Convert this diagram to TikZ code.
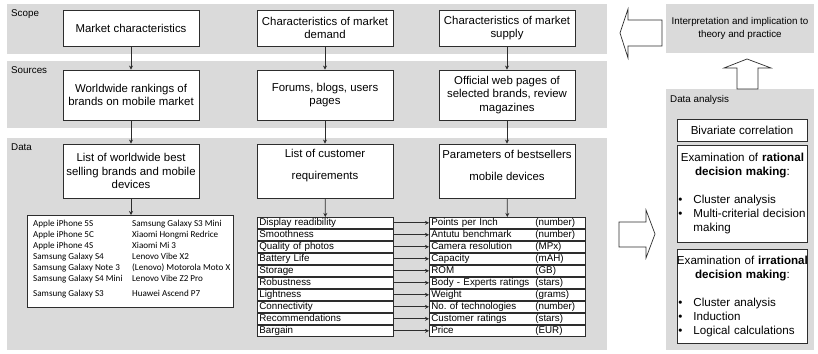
\documentclass[tikz,border=0pt]{standalone}
\usepackage{fontspec}
\setmainfont{Liberation Sans}
\newfontfamily\brandfont{Carlito}
\usetikzlibrary{arrows.meta}
\definecolor{bandgray}{RGB}{218,218,218}
\definecolor{linec}{RGB}{45,45,45}
\begin{document}
\begin{tikzpicture}[x=1pt,y=-1pt,
  band/.style={fill=bandgray,draw=none},
  box/.style={draw=linec,fill=white,line width=0.8pt,align=center,inner sep=0pt,
    minimum width=136pt,font=\fontsize{11.4}{13.8}\selectfont},
  boxtext/.style={align=center,inner sep=0pt,font=\fontsize{11.4}{13.8}\selectfont},
  lab/.style={font=\fontsize{9.8}{11}\selectfont,anchor=base west,inner sep=0pt},
  arr/.style={draw=linec,line width=0.8pt,-{Stealth[length=4pt,width=4pt]}},
  req/.style={draw=linec,fill=white,line width=0.7pt,anchor=north west,
    minimum height=11pt,inner xsep=2pt,inner ysep=0pt,text width=132pt,
    text height=7.3pt,text depth=2.2pt,align=left,font=\fontsize{9.8}{10}\selectfont},
  prm/.style={req,text width=152pt},
  rbox/.style={draw=linec,fill=white,line width=0.8pt,inner ysep=0pt,inner xsep=1pt,
    minimum width=130pt,font=\fontsize{11.6}{14}\selectfont},
  bigarrow/.style={draw=linec,fill=white,line width=0.7pt,line join=miter}]
\useasboundingbox (0,0) rectangle (818,353);

% bands
\fill[band] (7,4) rectangle (607,54);
\fill[band] (7,61) rectangle (607,128);
\fill[band] (7,138) rectangle (607,350);
\node[lab] (lscope) at (11,16.5) {Scope};
\node[lab] (lsrc) at (11,73.5) {Sources};
\node[lab] (ldata) at (11,150.5) {Data};

% column boxes
\node[box,minimum height=36pt] (m1) at (131,28) {Market characteristics};
\node[box,minimum height=36pt] (m2) at (325,28) {Characteristics of market\\demand};
\node[box,minimum height=36pt] (m3) at (507,28) {Characteristics of market\\supply};
\node[box,minimum height=50pt] (s1) at (131,95) {Worldwide rankings of\\brands on mobile market};
\node[box,minimum height=50pt] (s2) at (325,95) {Forums, blogs, users\\pages};
\node[box,minimum height=50pt] (s3) at (507,95) {Official web pages of\\selected brands, review\\magazines};
\node[box,minimum height=54pt] (l1) at (131,171) {List of worldwide best\\selling brands and mobile\\devices};
\node[box,minimum height=54pt] (l2) at (325,171) {};
\node[boxtext] (l2t) at (325,165.5) {List of customer\\[9pt]requirements};
\node[box,minimum height=54pt] (l3) at (507,171) {};
\node[boxtext] (l3t) at (507,165.5) {Parameters of bestsellers\\[9pt]mobile devices};

\draw[arr] (m1) -- (s1);
\draw[arr] (m2) -- (s2);
\draw[arr] (m3) -- (s3);
\draw[arr] (s1) -- (l1);
\draw[arr] (s2) -- (l2);
\draw[arr] (s3) -- (l3);

% brand list
\node[draw=linec,fill=white,line width=0.8pt,anchor=north west,minimum width=206pt,
  minimum height=92pt,inner sep=0pt] (brands) at (27,215) {};
\node[anchor=base west,inner sep=0pt,font=\brandfont\fontsize{9.1}{11}\selectfont] (brandtxt) at (33,226.5)
  {\begin{tabular}[t]{@{}p{99pt}@{}l@{}}
  Apple iPhone 5S & Samsung Galaxy S3 Mini\\
  Apple iPhone 5C & Xiaomi Hongmi Redrice\\
  Apple iPhone 4S & Xiaomi Mi 3\\
  Samsung Galaxy S4 & Lenovo Vibe X2\\
  Samsung Galaxy Note 3 & (Lenovo) Motorola Moto X\\
  Samsung Galaxy S4 Mini & Lenovo Vibe Z2 Pro\\[4pt]
  Samsung Galaxy S3 & Huawei Ascend P7
  \end{tabular}};
\draw[arr] (l1.south) -- (l1.south |- brands.north);

% requirement / parameter tables
\foreach \i/\reqt/\prmt/\unitt in {
  1/Display readibility/Points per Inch/(number),
  2/Smoothness/Antutu benchmark/(number),
  3/Quality of photos/Camera resolution/(MPx),
  4/Battery Life/Capacity/(mAH),
  5/Storage/ROM/(GB),
  6/Robustness/Body - Experts ratings/(stars),
  7/Lightness/Weight/(grams),
  8/Connectivity/No.\ of technologies/(number),
  9/Recommendations/Customer ratings/(stars),
  10/Bargain/Price/(EUR)}{
  \node[req] (d\i) at (257,{217+12*(\i-1)}) {\reqt};
  \node[prm] (p\i) at (429,{217+12*(\i-1)}) {\makebox[104pt][l]{\prmt}\unitt};
  \draw[arr] (d\i) -- (p\i);
}
\draw[arr] (l2) -- (d1);
\draw[arr] (l3) -- (p1);

% right panel
\node[fill=bandgray,minimum width=148pt,minimum height=49pt,inner sep=0pt,align=center,
  font=\fontsize{9.8}{13}\selectfont] (interp) at (740,28.5)
  {Interpretation and implication to\\theory and practice};
\fill[band] (666,89) rectangle (814,350);
\node[lab] (lda) at (670,102) {Data analysis};

\node[rbox,minimum height=22pt] (biv) at (742,130) {Bivariate correlation};
\node[rbox,anchor=north west,minimum height=97pt,text width=128pt,align=left] (rat) at (677,145)
  {\makebox[128pt][c]{Examination of \textbf{rational}}\\
   \makebox[128pt][c]{\textbf{decision making}:}\\[14pt]
   \makebox[15pt][l]{\textbullet}Cluster analysis\\
   \makebox[15pt][l]{\textbullet}Multi-criterial decision\\
   \makebox[15pt][l]{}making};
\node[rbox,anchor=north west,minimum height=94pt,text width=128pt,align=left] (irr) at (677,249)
  {\makebox[128pt][c]{Examination of \textbf{irrational}}\\
   \makebox[128pt][c]{\textbf{decision making}:}\\[14pt]
   \makebox[15pt][l]{\textbullet}Cluster analysis\\
   \makebox[15pt][l]{\textbullet}Induction\\
   \makebox[15pt][l]{\textbullet}Logical calculations};

% block arrows
\draw[bigarrow] (662,20) -- (628,20) -- (628,9) -- (620,33) -- (628,58) -- (628,46) -- (662,46) -- cycle;
\draw[bigarrow] (737,89) -- (737,68) -- (724,68) -- (747,59) -- (771,68) -- (758,68) -- (758,89) -- cycle;
\draw[bigarrow] (619,222) -- (646,222) -- (646,210) -- (655,234) -- (646,258) -- (646,247) -- (619,247) -- cycle;
\end{tikzpicture}
\end{document}
